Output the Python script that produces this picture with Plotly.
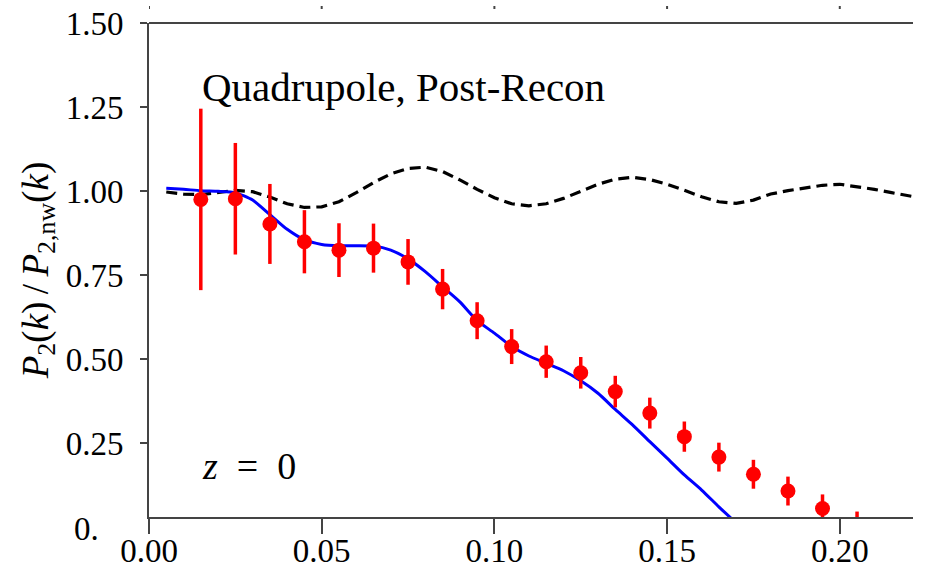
import plotly.graph_objects as go

# ---- data ----
k_data = [0.015, 0.025, 0.035, 0.045, 0.055, 0.065, 0.075, 0.085, 0.095, 0.105,
          0.115, 0.125, 0.135, 0.145, 0.155, 0.165, 0.175, 0.185, 0.195, 0.205]
p2_data = [0.975, 0.977, 0.902, 0.849, 0.824, 0.830, 0.789, 0.708, 0.614, 0.537,
           0.492, 0.459, 0.403, 0.339, 0.269, 0.208, 0.157, 0.107, 0.055, 0.004]
p2_err = [0.270, 0.166, 0.119, 0.094, 0.080, 0.073, 0.068, 0.060, 0.055, 0.052,
          0.048, 0.047, 0.047, 0.046, 0.045, 0.043, 0.043, 0.043, 0.042, 0.042]

k_model = [0.005, 0.010, 0.015, 0.020, 0.025, 0.030, 0.035, 0.040, 0.045, 0.050,
           0.055, 0.060, 0.065, 0.070, 0.075, 0.080, 0.085, 0.090, 0.095, 0.100,
           0.105, 0.110, 0.115, 0.120, 0.125, 0.130, 0.135, 0.140, 0.145, 0.150,
           0.155, 0.160, 0.165, 0.170]
p2_model = [1.008, 1.005, 1.001, 0.999, 0.995, 0.973, 0.930, 0.886, 0.855, 0.841,
            0.837, 0.837, 0.836, 0.824, 0.798, 0.760, 0.715, 0.670, 0.614, 0.577,
            0.537, 0.509, 0.487, 0.465, 0.435, 0.398, 0.350, 0.304, 0.254, 0.205,
            0.155, 0.110, 0.060, 0.012]

k_wig = [0.005, 0.010, 0.015, 0.020, 0.025, 0.030, 0.035, 0.040, 0.045, 0.050,
         0.055, 0.060, 0.065, 0.070, 0.075, 0.080, 0.085, 0.090, 0.095, 0.100,
         0.105, 0.110, 0.115, 0.120, 0.125, 0.130, 0.135, 0.140, 0.145, 0.150,
         0.155, 0.160, 0.165, 0.170, 0.175, 0.180, 0.185, 0.190, 0.195, 0.200,
         0.205, 0.210, 0.215, 0.220, 0.2215]
p2_wig = [0.997, 0.991, 0.989, 0.995, 1.002, 0.998, 0.982, 0.962, 0.951, 0.953,
          0.968, 0.995, 1.025, 1.051, 1.067, 1.071, 1.058, 1.033, 1.005, 0.980,
          0.962, 0.956, 0.962, 0.978, 0.998, 1.020, 1.035, 1.041, 1.034, 1.020,
          1.002, 0.983, 0.968, 0.963, 0.973, 0.991, 1.001, 1.010, 1.017, 1.020,
          1.013, 1.005, 0.995, 0.985, 0.983]

x_ticks = [0.00, 0.05, 0.10, 0.15, 0.20]
x_ticklabels = ["0.00", "0.05", "0.10", "0.15", "0.20"]
y_ticks = [0.25, 0.50, 0.75, 1.00, 1.25, 1.50]
y_ticklabels = ["0.25", "0.50", "0.75", "1.00", "1.25", "1.50"]

title_text = "Quadrupole, Post-Recon"
z_text = "<i>z</i>\u2002=\u20020"
y_title = "<i>P</i><sub>2</sub>(<i>k</i>)\u2009/\u2009<i>P</i><sub>2,nw</sub>(<i>k</i>)"

FONT = "Liberation Serif"
AX = "#444444"

fig = go.Figure()

fig.add_trace(go.Scatter(
    x=k_wig, y=p2_wig, mode="lines",
    line=dict(color="black", width=3.2, dash="11px,6px"),
    showlegend=False, hoverinfo="skip"))

fig.add_trace(go.Scatter(
    x=k_model, y=p2_model, mode="lines",
    line=dict(color="#0000ff", width=3, shape="spline", smoothing=0.6),
    showlegend=False))

fig.add_trace(go.Scatter(
    x=k_data, y=p2_data, mode="markers",
    marker=dict(color="#ff0000", size=15),
    error_y=dict(type="data", array=p2_err, color="#ff0000", thickness=3.5, width=0),
    showlegend=False))

fig.update_layout(
    width=927, height=571,
    margin=dict(l=149, r=14, t=23, b=54, autoexpand=False),
    paper_bgcolor="white", plot_bgcolor="white",
    font=dict(family=FONT, size=33, color="black"),
    xaxis=dict(
        range=[0, 0.2212], tickvals=x_ticks, ticktext=x_ticklabels,
        ticks="outside", ticklen=15, tickwidth=2, tickcolor=AX,
        showline=True, linecolor=AX, linewidth=2, mirror=False,
        showgrid=False, zeroline=False, ticklabelstandoff=-12, automargin=False,
        tickfont=dict(family=FONT, size=33, color="black")),
    yaxis=dict(
        range=[0.0298, 1.5], tickvals=y_ticks, ticktext=y_ticklabels,
        ticks="outside", ticklen=7, tickwidth=2, tickcolor=AX,
        showline=True, linecolor=AX, linewidth=2, mirror=False,
        showgrid=False, zeroline=False, ticklabelstandoff=10, automargin=False,
        tickfont=dict(family=FONT, size=33, color="black"),
        title=dict(text=y_title, font=dict(family=FONT, size=37), standoff=6)),
)

# top spine
fig.add_shape(type="line", xref="paper", yref="paper", x0=0, x1=1, y0=1, y1=1,
              line=dict(color=AX, width=2))
# tick stubs from the panel above
for xv in x_ticks:
    fig.add_shape(type="line", xref="x", yref="paper", x0=xv, x1=xv,
                  y0=1.0283, y1=1.0344, line=dict(color=AX, width=2))

fig.add_annotation(x=0.0148, y=1.31, xref="x", yref="y", text=title_text,
                   showarrow=False, xanchor="left", yanchor="middle",
                   font=dict(family=FONT, size=41, color="black"))
fig.add_annotation(x=0.0148, y=0.182, xref="x", yref="y", text=z_text,
                   showarrow=False, xanchor="left", yanchor="middle",
                   font=dict(family=FONT, size=38, color="black"))
fig.add_annotation(x=-0.1008, y=-0.0243, xref="paper", yref="paper", text="0.",
                   showarrow=False, xanchor="left", yanchor="middle",
                   font=dict(family=FONT, size=33, color="black"))

fig.write_html(
    "out.html",
    config={"displayModeBar": False},
    post_script="document.body.style.margin='0';document.body.style.overflow='hidden';",
)
